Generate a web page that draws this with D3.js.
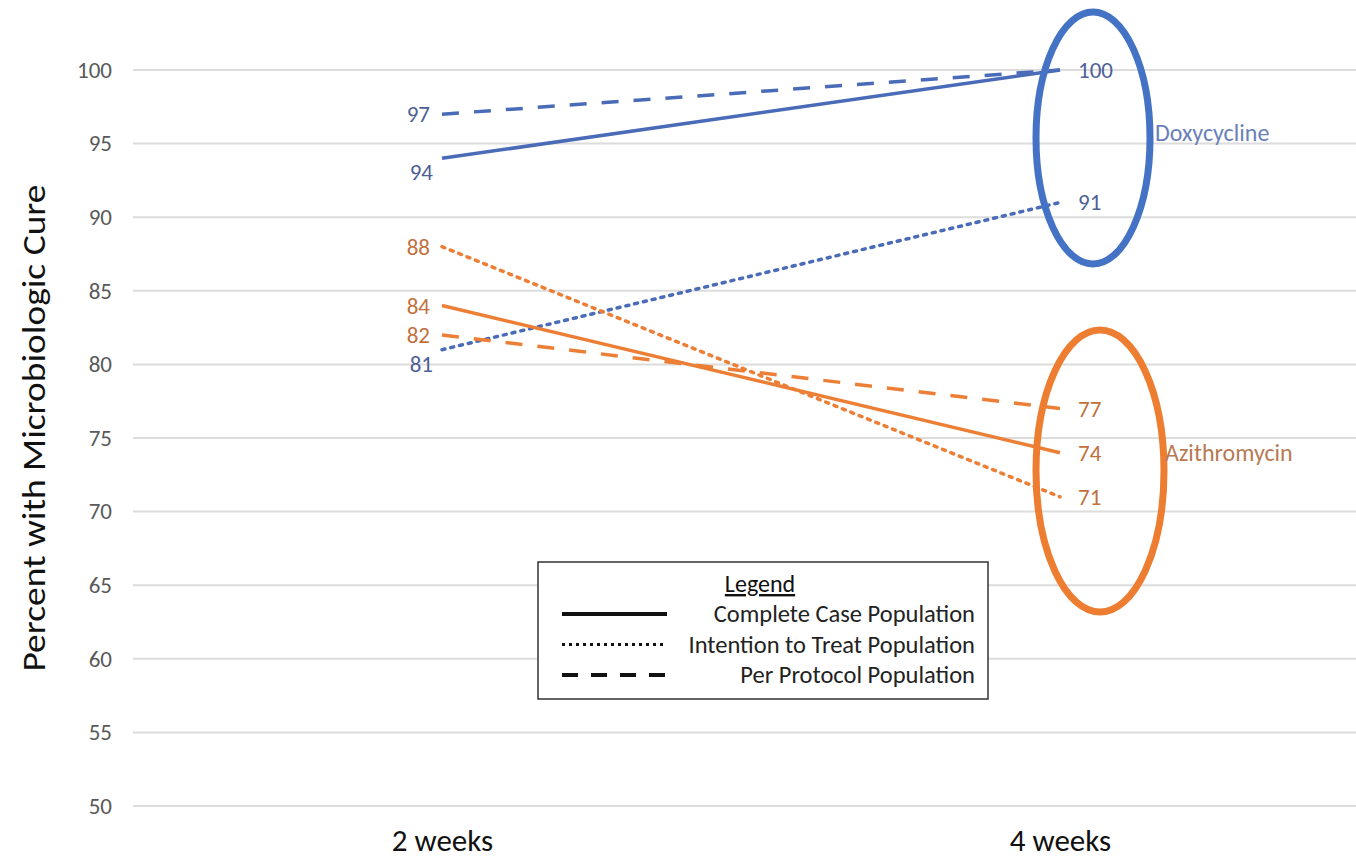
<!DOCTYPE html>
<html>
<head>
<meta charset="utf-8">
<style>
  body { margin: 0; background: #fff; }
  svg text { font-family: Calibri, Carlito, "Open Sans", sans-serif; }
</style>
<script src="https://d3js.org/d3.v7.min.js"></script>
</head>
<body>
<div id="chart"></div>
<script>
// time points and the y ticks
var weeks = ["2 weeks", "4 weeks"];
var yTicks = [50, 55, 60, 65, 70, 75, 80, 85, 90, 95, 100];

// percent cured, one array per drug and population
var doxyComplete = [94, 100];
var doxyITT = [81, 91];
var doxyPP = [97, 100];
var aziComplete = [84, 74];
var aziITT = [88, 71];
var aziPP = [82, 77];

var populations = ["Complete Case Population", "Intention to Treat Population", "Per Protocol Population"];

var blue = "#4a6bb8", orange = "#ec7f35";
var blueText = "#4d5f96", orangeText = "#c0703c";
var font = "Calibri, Carlito, 'Open Sans', sans-serif";

var series = [
  { drug: "doxy", pop: 0, values: doxyComplete, labelPos: ["below", "right"] },
  { drug: "doxy", pop: 1, values: doxyITT, labelPos: ["below", "right"] },
  { drug: "doxy", pop: 2, values: doxyPP, labelPos: ["left", "none"] },
  { drug: "azi", pop: 0, values: aziComplete, labelPos: ["left", "right"] },
  { drug: "azi", pop: 1, values: aziITT, labelPos: ["left", "right"] },
  { drug: "azi", pop: 2, values: aziPP, labelPos: ["left", "right"] }
];

var dashes = ["none", "3,6", "17,15"];

var width = 1356, height = 862;
var svg = d3.select("#chart").append("svg")
  .attr("width", width).attr("height", height);

var y = d3.scaleLinear().domain([50, 100]).range([806, 70]);
var x = d3.scalePoint().domain(weeks).range([442, 1060]);

// gridlines
svg.append("g").selectAll("line")
  .data(yTicks).enter().append("line")
    .attr("x1", 133).attr("x2", width)
    .attr("y1", function (d) { return y(d); })
    .attr("y2", function (d) { return y(d); })
    .attr("stroke", "#dcdcdc").attr("stroke-width", 2);

// y axis labels
var yAxis = d3.axisLeft(y).tickValues(yTicks).tickSize(0).tickPadding(0);
var yg = svg.append("g").attr("transform", "translate(112,0)").call(yAxis);
yg.select(".domain").remove();
yg.selectAll("text")
  .attr("fill", "#595959").style("font-size", "23px")
  .style("font-family", font);

// x axis labels
var xAxis = d3.axisBottom(x).tickSize(0).tickPadding(0);
var xg = svg.append("g").attr("transform", "translate(0,829)").call(xAxis);
xg.select(".domain").remove();
xg.selectAll("text")
  .attr("fill", "#111").style("font-size", "31px")
  .style("font-family", font);

// y axis title
svg.append("text")
  .attr("transform", "translate(45,428) rotate(-90)")
  .attr("text-anchor", "middle")
  .attr("textLength", 487).attr("lengthAdjust", "spacingAndGlyphs")
  .style("font-size", "32px").attr("fill", "#111")
  .text("Percent with Microbiologic Cure");

// lines
var line = d3.line()
  .x(function (d, i) { return x(weeks[i]); })
  .y(function (d) { return y(d); });

svg.append("g").selectAll("path")
  .data(series).enter().append("path")
    .attr("d", function (d) { return line(d.values); })
    .attr("fill", "none")
    .attr("stroke", function (d) { return d.drug === "doxy" ? blue : orange; })
    .attr("stroke-width", 3.5)
    .attr("stroke-linecap", function (d) { return d.pop === 1 ? "round" : "butt"; })
    .attr("stroke-dasharray", function (d) { return dashes[d.pop]; });

// data labels
var labels = [];
series.forEach(function (s) {
  s.values.forEach(function (v, i) {
    if (s.labelPos[i] !== "none") labels.push({ v: v, i: i, pos: s.labelPos[i], drug: s.drug });
  });
});
svg.append("g").selectAll("text")
  .data(labels).enter().append("text")
    .attr("x", function (d) {
      var px = x(weeks[d.i]);
      if (d.pos === "right") return px + 18;
      if (d.pos === "below") return px - 9;
      return px - 12;
    })
    .attr("y", function (d) {
      var py = y(d.v);
      return d.pos === "below" ? py + 22 : py + 8;
    })
    .attr("text-anchor", function (d) { return d.pos === "right" ? "start" : "end"; })
    .attr("fill", function (d) { return d.drug === "doxy" ? blueText : orangeText; })
    .style("font-size", "23px")
    .text(function (d) { return d.v; });

// circled end points with drug names
svg.append("ellipse")
  .attr("cx", 1093).attr("cy", 138).attr("rx", 57).attr("ry", 126)
  .attr("fill", "none").attr("stroke", "#4472c4").attr("stroke-width", 7);
svg.append("ellipse")
  .attr("cx", 1100).attr("cy", 471).attr("rx", 64).attr("ry", 141)
  .attr("fill", "none").attr("stroke", "#ed7d31").attr("stroke-width", 7);

svg.append("text").attr("x", 1155).attr("y", 141)
  .attr("fill", "#6a7fb8").style("font-size", "24px").text("Doxycycline");
svg.append("text").attr("x", 1165).attr("y", y(74) + 8)
  .attr("fill", "#b87a52").style("font-size", "24px").text("Azithromycin");

// legend box
var lg = svg.append("g");
lg.append("rect")
  .attr("x", 538).attr("y", 562).attr("width", 450).attr("height", 137)
  .attr("fill", "#fff").attr("stroke", "#333").attr("stroke-width", 1.5);
lg.append("text").attr("x", 760).attr("y", 592)
  .attr("text-anchor", "middle").attr("fill", "#111")
  .style("font-size", "24px").style("text-decoration", "underline")
  .text("Legend");
var legendDash = ["none", "3,4", "16,13"];
populations.forEach(function (p, i) {
  var ly = 614 + i * 30.5;
  lg.append("line")
    .attr("x1", 562).attr("x2", 667).attr("y1", ly).attr("y2", ly)
    .attr("stroke", "#111").attr("stroke-width", i === 1 ? 3 : 4)
    .attr("stroke-dasharray", legendDash[i]);
  lg.append("text").attr("x", 975).attr("y", ly + 8)
    .attr("text-anchor", "end").attr("fill", "#222")
    .style("font-size", "24.5px").text(p);
});
</script>
</body>
</html>
